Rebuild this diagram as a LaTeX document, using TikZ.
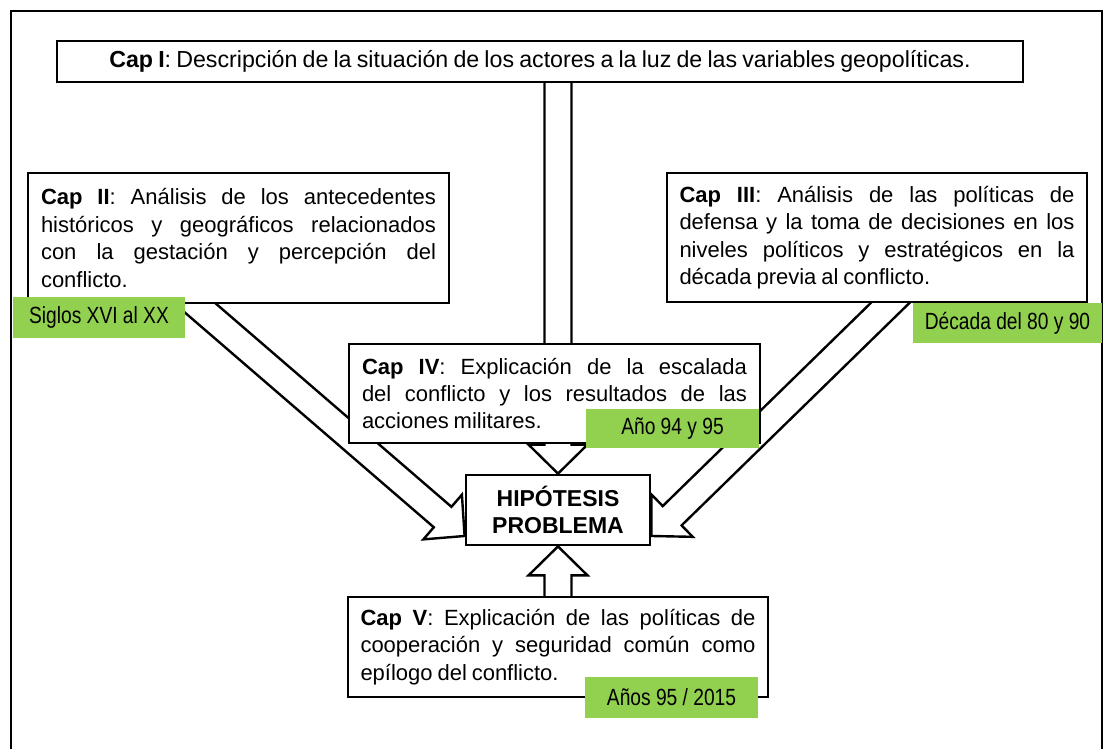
\documentclass[tikz,border=0pt]{standalone}
\usepackage{fontspec}
\setmainfont[WordSpace=0.8]{Liberation Sans}
\newfontfamily\angosta[FakeStretch=0.82]{Liberation Sans}
\usetikzlibrary{calc,backgrounds}
\definecolor{verde}{RGB}{146,208,80}

\begin{document}
\begin{tikzpicture}[x=0.5pt,y=-0.5pt]

\useasboundingbox (0,0) rectangle (1104,749);

\newcommand{\anchoc}{6.75pt}
\newcommand{\anchop}{14.75pt}
\newcommand{\largop}{14.5pt}

\tikzstyle{caja}=[draw,line width=1.4pt,fill=white,inner sep=0pt,font=\fontsize{11}{13.7}\selectfont]
\tikzstyle{texto}=[caja,align=justify,inner xsep=6.5pt]
\tikzstyle{etiqueta}=[fill=verde,inner sep=0pt,font=\angosta\fontsize{11.7}{13}\selectfont]
\tikzstyle{flecha}=[draw,fill=white,line width=1.2pt,line join=miter]

\newcommand{\flecha}[2]{
    \draw[flecha] let \p1=($(#2)-(#1)$), \n1={atan2(\y1,\x1)}, \n2={veclen(\x1,\y1)} in
        ($(#1)+(\n1:-10pt)+(\n1+90:\anchoc)$)
        -- ($(#1)+(\n1:\n2-\largop)+(\n1+90:\anchoc)$)
        -- ($(#1)+(\n1:\n2-\largop)+(\n1+90:\anchop)$)
        -- (#2)
        -- ($(#1)+(\n1:\n2-\largop)+(\n1-90:\anchop)$)
        -- ($(#1)+(\n1:\n2-\largop)+(\n1-90:\anchoc)$)
        -- ($(#1)+(\n1:-10pt)+(\n1-90:\anchoc)$);
}

% marco
\draw[line width=1pt] (11,11) rectangle (1102,780);

\node[caja,minimum width=483pt,minimum height=20.5pt,font=\fontsize{11.6}{13.7}\selectfont] (capI) at (540,61.5)
    {\textbf{Cap I}: Descripción de la situación de los actores a la luz de las variables geopolíticas.};

\node[texto,text width=197.5pt,minimum height=65pt] (capII) at (238.5,238)
    {\textbf{Cap II}: Análisis de los antecedentes\linebreak históricos y geográficos relacionados\linebreak con la gestación y percepción del\linebreak conflicto.};

\node[texto,text width=197.5pt,inner xsep=6.25pt,minimum height=64.5pt] (capIII) at (877,237.5)
    {\textbf{Cap III}: Análisis de las políticas de\linebreak defensa y la toma de decisiones en los\linebreak niveles políticos y estratégicos en la\linebreak década previa al conflicto.};

\node[texto,text width=192.5pt,minimum height=49.5pt] (capIV) at (554.5,393.5)
    {\textbf{Cap IV}: Explicación de la escalada\linebreak del conflicto y los resultados de las\linebreak acciones militares.};

\node[texto,text width=197.5pt,inner xsep=6.25pt,minimum height=50pt] (capV) at (558,647)
    {\textbf{Cap V}: Explicación de las políticas de\linebreak cooperación y seguridad común como\linebreak epílogo del conflicto.};

\node[caja,align=center,minimum width=92pt,minimum height=35pt,font=\bfseries\fontsize{11.5}{13.5}\selectfont] (hip) at (558,510)
    {HIPÓTESIS\\PROBLEMA};

% etiquetas de periodo
\node[etiqueta,minimum width=86pt,minimum height=20.5pt] (siglos) at (99,317.5) {Siglos XVI al XX};
\node[etiqueta,minimum width=94.5pt,minimum height=20pt] (decada) at (1007.5,323) {Década del 80 y 90};
\node[etiqueta,minimum width=86.5pt,minimum height=19.5pt] (anio) at (672.5,428.5) {Año 94 y 95};
\node[etiqueta,minimum width=86.5pt,minimum height=20.5pt] (anios) at (671.5,697.5) {Años 95 / 2015};

\coordinate (colaI) at ($(capI.south west)!(hip.north)!(capI.south east)$);
\coordinate (colaII) at ($(capII.south west)!0.4!(capII.south east)$);
\coordinate (colaIII) at ($(capIII.south west)!0.53!(capIII.south east)$);
\coordinate (puntaII) at ($(hip.north west)!0.857!(hip.south west)$);
\coordinate (puntaIII) at ($(hip.north east)!0.857!(hip.south east)$);

\begin{scope}[on background layer]
    \foreach \a/\b in {colaI/hip.north,colaII/puntaII,colaIII/puntaIII,capV.north/hip.south}
    {
        \flecha{\a}{\b}
    }
\end{scope}

\end{tikzpicture}
\end{document}
